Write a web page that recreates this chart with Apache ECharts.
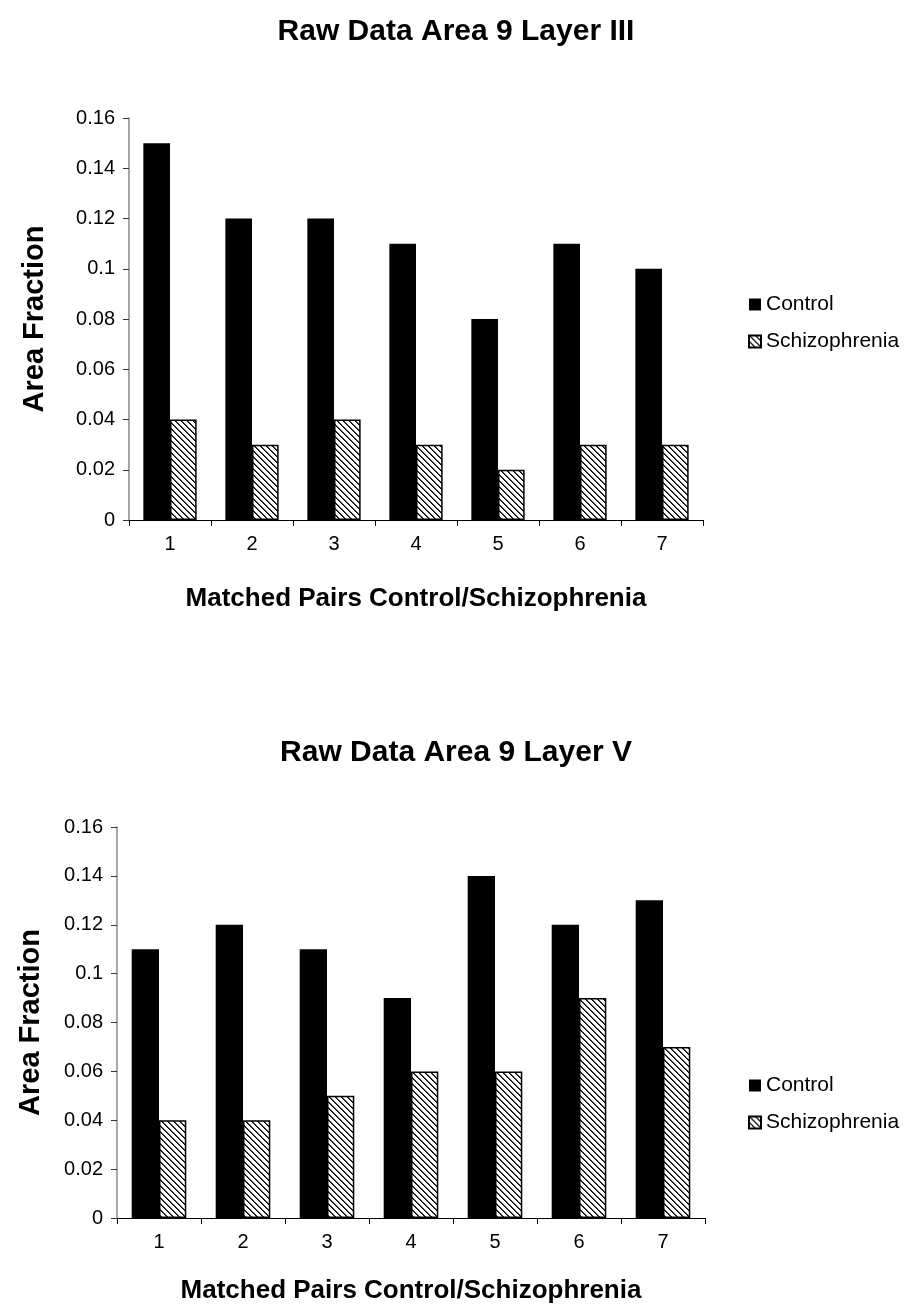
<!DOCTYPE html>
<html><head><meta charset="utf-8">
<script src="https://cdn.jsdelivr.net/npm/echarts@6/dist/echarts.min.js"></script>
<style>html,body{margin:0;padding:0;background:#fff}#c{width:912px;height:1312px}</style>
</head><body><div id="c"></div>
<script>
const categories = ['1','2','3','4','5','6','7'];
const titleTop = 'Raw Data Area 9 Layer III';
const titleBottom = 'Raw Data Area 9 Layer V';
const controlLayerIII = [0.15, 0.12, 0.12, 0.11, 0.08, 0.11, 0.10];
const schizLayerIII   = [0.04, 0.03, 0.04, 0.03, 0.02, 0.03, 0.03];
const controlLayerV   = [0.11, 0.12, 0.11, 0.09, 0.14, 0.12, 0.13];
const schizLayerV     = [0.04, 0.04, 0.05, 0.06, 0.06, 0.09, 0.07];
const yTicks = [0, 0.02, 0.04, 0.06, 0.08, 0.1, 0.12, 0.14, 0.16];

function hatch(){
  const n = 6, cv = document.createElement('canvas');
  cv.width = n; cv.height = n;
  const ctx = cv.getContext('2d');
  const img = ctx.createImageData(n, n);
  for (let y = 0; y < n; y++) for (let x = 0; x < n; x++) {
    const d = ((x - y) % n + n) % n;
    const v = d === 0 ? 0 : (d === 1 ? 70 : 255);
    const i = (y * n + x) * 4;
    img.data[i] = img.data[i+1] = img.data[i+2] = v; img.data[i+3] = 255;
  }
  ctx.putImageData(img, 0, 0);
  return cv;
}
const pat = {image: hatch(), repeat: 'repeat'};
const FONT = "'Liberation Sans', Arial, sans-serif";

function axes(gi, yGap, xGap){
  return {
    x: {
      type: 'category', gridIndex: gi, data: categories,
      axisLine: {lineStyle: {color: '#000', width: 1}},
      axisTick: {show: true, length: 6, lineStyle: {color: '#000'}},
      axisLabel: {color: '#000', fontSize: 20, fontFamily: FONT, margin: 14},
      name: 'Matched Pairs Control/Schizophrenia', nameLocation: 'middle', nameGap: xGap,
      nameTextStyle: {color: '#000', fontSize: 26, fontWeight: 'bold', fontFamily: FONT}
    },
    y: {
      type: 'value', gridIndex: gi, min: 0, max: 0.16, interval: 0.02,
      axisLine: {show: true, lineStyle: {color: '#888', width: 1.5}},
      axisTick: {show: true, length: 6, lineStyle: {color: '#333'}},
      splitLine: {show: false},
      axisLabel: {color: '#000', fontSize: 20, fontFamily: FONT, margin: 14,
        formatter: v => { const t = yTicks.find(k => Math.abs(k - v) < 1e-9); return t === undefined ? '' : String(t); }},
      name: 'Area Fraction', nameLocation: 'middle', nameGap: yGap,
      nameTextStyle: {color: '#000', fontSize: 29, fontWeight: 'bold', fontFamily: FONT}
    }
  };
}
const a0 = axes(0, 80, 66), a1 = axes(1, 72, 60);
function ser(name, data, gi, isSchiz){
  return {
    name, type: 'bar', data, xAxisIndex: gi, yAxisIndex: gi,
    barCategoryGap: '35%', barGap: '0%',
    itemStyle: isSchiz ? {color: pat, borderColor: '#000', borderWidth: 1.5} : {color: '#000', borderColor: '#000', borderWidth: 0},
    emphasis: {disabled: true}
  };
}
const legendCommon = {
  orient: 'vertical', left: 743, itemWidth: 12, itemHeight: 12, itemGap: 16, icon: 'rect',
  textStyle: {color: '#000', fontSize: 21, fontFamily: FONT},
  data: ['Control', 'Schizophrenia']
};
const chart = echarts.init(document.getElementById('c'), null, {renderer: 'canvas'});
chart.setOption({
  animation: false,
  backgroundColor: '#fff',
  title: [
    {text: titleTop, left: 'center', top: 12, textStyle: {color: '#000', fontSize: 30, fontWeight: 'bold', fontFamily: FONT}},
    {text: titleBottom, left: 'center', top: 733, textStyle: {color: '#000', fontSize: 30, fontWeight: 'bold', fontFamily: FONT}}
  ],
  legend: [
    Object.assign({}, legendCommon, {top: 289}),
    Object.assign({}, legendCommon, {top: 1070})
  ],
  grid: [
    {left: 129, right: 209, top: 118, bottom: 792},
    {left: 117, right: 207, top: 827, bottom: 94}
  ],
  xAxis: [a0.x, a1.x],
  yAxis: [a0.y, a1.y],
  series: [
    ser('Control', controlLayerIII, 0, false),
    ser('Schizophrenia', schizLayerIII, 0, true),
    ser('Control', controlLayerV, 1, false),
    ser('Schizophrenia', schizLayerV, 1, true)
  ]
});
</script></body></html>
